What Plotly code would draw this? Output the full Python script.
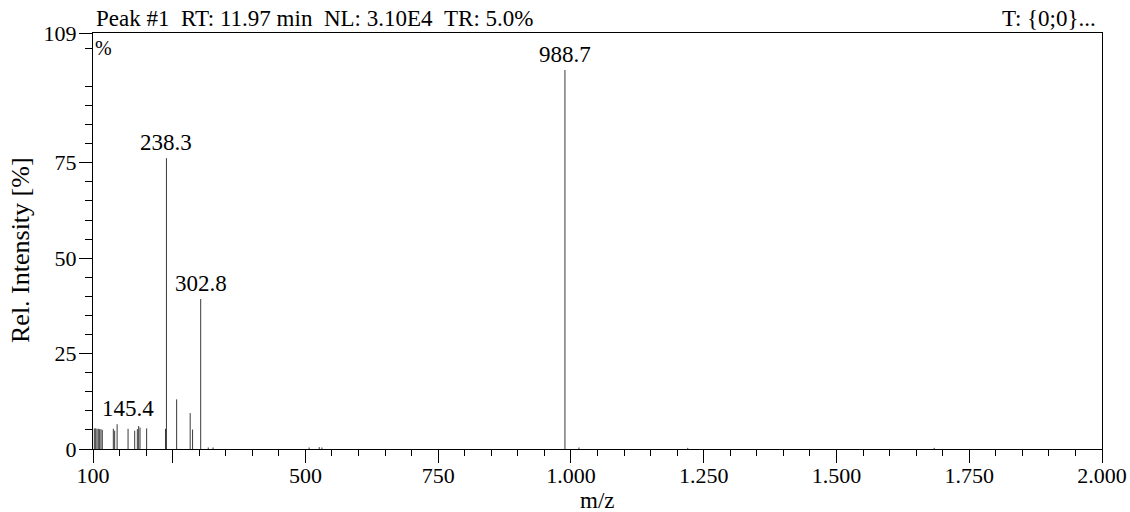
import plotly.graph_objects as go

# ---- data ----
mz = [102.5, 105.0, 107.5, 110.0, 112.5, 115.0, 117.5,
      138.3, 140.8, 145.4, 166.0, 178.5, 183.5, 186.0, 188.5, 201.0,
      236.5, 238.3, 257.5, 283.0, 287.5, 302.8,
      317.0, 326.0, 507.0, 526.0, 531.0, 988.7, 1015.0, 1220.0, 1684.0]
intensity = [5.4, 5.4, 5.3, 5.3, 5.2, 5.2, 5.0,
             5.3, 4.8, 6.5, 5.3, 4.8, 5.2, 6.0, 5.6, 5.4,
             5.3, 76.2, 13.0, 9.4, 5.1, 39.3,
             0.4, 0.4, 0.4, 0.5, 0.4, 99.3, 0.4, 0.3, 0.3]
labeled_peaks = [145.4, 238.3, 302.8, 988.7]

x_tickvals = [100, 250, 500, 750, 1000, 1250, 1500, 1750, 2000]
x_ticktext = ["100", "", "500", "750", "1.000", "1.250", "1.500", "1.750", "2.000"]
y_tickvals = [0, 25, 50, 75, 109]
y_ticktext = ["0", "25", "50", "75", "109"]

title_left = "Peak #1\u00a0\u00a0RT: 11.97 min\u00a0\u00a0NL: 3.10E4\u00a0\u00a0TR: 5.0%"
title_right = "T: {0;0}..."
x_title = "m/z"
y_title = "Rel. Intensity [%]"

# ---- build sticks ----
xs, ys = [], []
for m, i in zip(mz, intensity):
    xs += [m, m, None]
    ys += [0, i, None]

FONT = "Liberation Serif, Times New Roman, DejaVu Serif, serif"

fig = go.Figure()
fig.add_trace(go.Scatter(x=xs, y=ys, mode="lines",
                         line=dict(color="#3a3a3a", width=1),
                         hoverinfo="skip", showlegend=False))

for p in labeled_peaks:
    idx = mz.index(p)
    fig.add_annotation(x=p, y=intensity[idx], text=f"{p:.1f}",
                       showarrow=False, xanchor="center", yanchor="bottom",
                       xshift=11 if p == 145.4 else 0, yshift=1,
                       font=dict(family=FONT, size=23, color="black"))

fig.add_annotation(x=0, y=1, xref="paper", yref="paper", text=title_left,
                   showarrow=False, xanchor="left", yanchor="bottom",
                   xshift=1, yshift=0, font=dict(family=FONT, size=23, color="black"))
fig.add_annotation(x=1, y=1, xref="paper", yref="paper", text=title_right,
                   showarrow=False, xanchor="right", yanchor="bottom",
                   xshift=-4, yshift=0, font=dict(family=FONT, size=23, color="black"))
fig.add_annotation(x=0, y=1, xref="paper", yref="paper", text="%",
                   showarrow=False, xanchor="left", yanchor="top",
                   xshift=0, yshift=-2, font=dict(family=FONT, size=20, color="black"))
fig.add_annotation(x=0.5, y=0, xref="paper", yref="paper", text=x_title,
                   showarrow=False, xanchor="center", yanchor="middle",
                   yshift=-51, font=dict(family=FONT, size=23, color="black"))
fig.add_annotation(x=0, y=0.5, xref="paper", yref="paper", text=y_title,
                   showarrow=False, xanchor="center", yanchor="middle",
                   textangle=-90, xshift=-73, yshift=-9,
                   font=dict(family=FONT, size=26, color="black"))

fig.update_layout(
    width=1130, height=512,
    margin=dict(l=93, r=28, t=33, b=63),
    paper_bgcolor="white", plot_bgcolor="white",
    font=dict(family=FONT, size=22, color="black"),
    xaxis=dict(range=[100, 2000], tickmode="array", tickvals=x_tickvals,
               ticktext=x_ticktext, ticks="outside", ticklen=13, tickwidth=1,
               tickcolor="black", showline=True, linecolor="black", linewidth=1,
               mirror=True, showgrid=False, zeroline=False, automargin=False,
               ticklabelstandoff=-6,
               minor=dict(tickmode="array",
                          tickvals=[v for v in range(150, 2000, 50) if v % 250 != 0],
                          ticks="outside", ticklen=6, tickcolor="black", showgrid=False),
               tickfont=dict(family=FONT, size=22)),
    yaxis=dict(range=[0, 109], tickmode="array", tickvals=y_tickvals,
               ticktext=y_ticktext, ticks="outside", ticklen=13, tickwidth=1,
               tickcolor="black", showline=True, linecolor="black", linewidth=1,
               mirror=True, showgrid=False, zeroline=False, automargin=False,
               ticklabelstandoff=-2,
               minor=dict(tickmode="array",
                          tickvals=[v for v in range(5, 109, 5) if v % 25 != 0],
                          ticks="outside", ticklen=7, tickcolor="black", showgrid=False),
               tickfont=dict(family=FONT, size=22)),
)

fig.write_html("out.html")
